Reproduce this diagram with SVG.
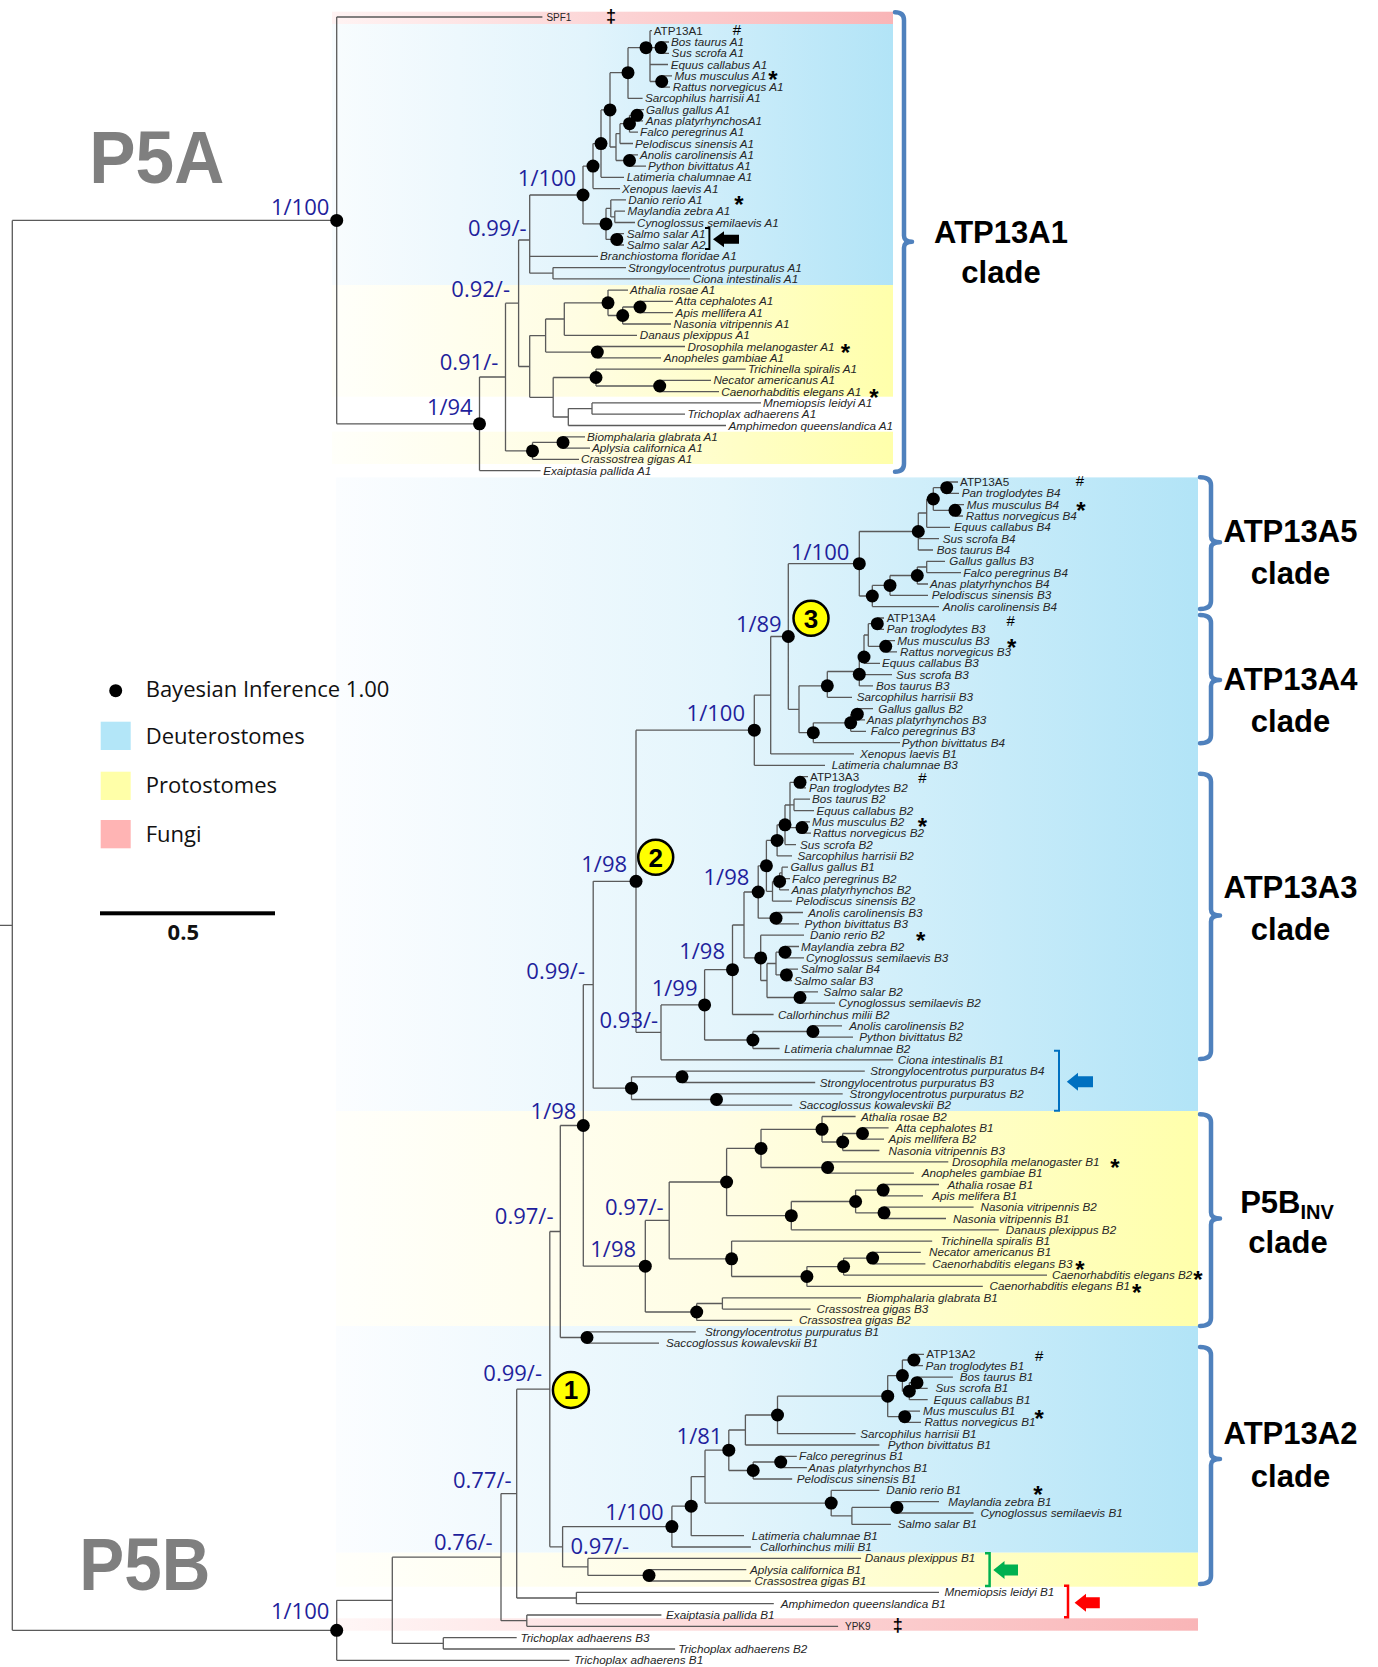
<svg xmlns="http://www.w3.org/2000/svg" xmlns:xlink="http://www.w3.org/1999/xlink" width="1378" height="1667" viewBox="0 0 1378 1667">
<defs>
<linearGradient id="bA" gradientUnits="userSpaceOnUse" x1="332" y1="0" x2="893" y2="0"><stop offset="0" stop-color="#f8fcfe"/><stop offset="0.45" stop-color="#e2f4fc"/><stop offset="1" stop-color="#b2e4f7"/></linearGradient>
<linearGradient id="yA" gradientUnits="userSpaceOnUse" x1="332" y1="0" x2="893" y2="0"><stop offset="0" stop-color="#fffffa"/><stop offset="0.45" stop-color="#fffde2"/><stop offset="1" stop-color="#ffffab"/></linearGradient>
<linearGradient id="pA" gradientUnits="userSpaceOnUse" x1="332" y1="0" x2="893" y2="0"><stop offset="0" stop-color="#fff3f3"/><stop offset="1" stop-color="#f9b5b7"/></linearGradient>
<linearGradient id="bB" gradientUnits="userSpaceOnUse" x1="336" y1="0" x2="1198" y2="0"><stop offset="0" stop-color="#fbfdff"/><stop offset="0.45" stop-color="#e4f5fc"/><stop offset="1" stop-color="#b2e4f7"/></linearGradient>
<linearGradient id="yB" gradientUnits="userSpaceOnUse" x1="336" y1="0" x2="1198" y2="0"><stop offset="0" stop-color="#fffffb"/><stop offset="0.45" stop-color="#fffde4"/><stop offset="1" stop-color="#ffffab"/></linearGradient>
<linearGradient id="pB" gradientUnits="userSpaceOnUse" x1="336" y1="0" x2="1198" y2="0"><stop offset="0" stop-color="#fff6f6"/><stop offset="1" stop-color="#f9b5b7"/></linearGradient>
</defs>
<style>
.br{fill:none;stroke:#5a5a5a;stroke-width:1.3}
.n{fill:#000}
.l{font-family:"Liberation Sans",Arial,sans-serif;font-size:11.7px;font-style:italic;fill:#262626}
.u{font-family:"Liberation Sans",Arial,sans-serif;font-size:11.7px;fill:#262626}
.f{font-family:"Liberation Sans",Arial,sans-serif;font-size:10px;fill:#262626}
.s{font-family:"Open Sans","Liberation Sans",sans-serif;font-size:22px;fill:#1f1f9c;text-anchor:end}
.c{font-family:"Liberation Sans",Arial,sans-serif;font-weight:bold;font-size:31px;fill:#000;text-anchor:middle}
.big{font-family:"Liberation Sans",Arial,sans-serif;font-weight:bold;font-size:75px;fill:#7f7f7f}
.ast{font-family:"Liberation Sans",Arial,sans-serif;font-weight:bold;font-size:24px;fill:#000;text-anchor:middle}
.hs{font-family:"Liberation Sans",Arial,sans-serif;font-size:15px;fill:#000;text-anchor:middle}
.dg{font-family:"Liberation Sans",Arial,sans-serif;font-weight:bold;font-size:18px;fill:#000;text-anchor:middle}
.cb{fill:none;stroke:#4f81bd;stroke-width:4.5;stroke-linecap:round;stroke-linejoin:round}
.lg{font-family:"Open Sans","Liberation Sans",sans-serif;font-size:22px;fill:#111}
.yc{fill:#ffff00;stroke:#000;stroke-width:2.5}
.yt{font-family:"Liberation Sans",Arial,sans-serif;font-weight:bold;font-size:26px;fill:#000;text-anchor:middle}
</style>
<rect x="0" y="0" width="1378" height="1667" fill="#ffffff"/>
<g id="bands">
<rect x="332" y="11.7" width="561" height="12.3" fill="url(#pA)"/>
<rect x="332" y="24" width="561" height="261" fill="url(#bA)"/>
<rect x="332" y="285" width="561" height="111.7" fill="url(#yA)"/>
<rect x="332" y="431.7" width="561" height="32.3" fill="url(#yA)"/>
<rect x="336" y="477.4" width="862" height="633.6" fill="url(#bB)"/>
<rect x="336" y="1111" width="862" height="215" fill="url(#yB)"/>
<rect x="336" y="1326" width="862" height="226.7" fill="url(#bB)"/>
<rect x="336" y="1552.7" width="862" height="34" fill="url(#yB)"/>
<rect x="336" y="1618.3" width="862" height="12.4" fill="url(#pB)"/>
</g>
<g id="titles">
<text class="big" x="89.3" y="182.7" textLength="135" lengthAdjust="spacingAndGlyphs">P5A</text>
<text class="big" x="79.3" y="1590" textLength="131" lengthAdjust="spacingAndGlyphs">P5B</text>
</g>
<g id="connectors">
<path class="br" d="M12.3 220.4V1630.3M12.3 220.4H336.7M12.3 1630.3H336.7M0 925.4H12.3"/>
<path class="br" d="M336.7 17H542.4M336.7 17V423.8M336.7 423.8H479.5M479.5 377V470.6M479.5 470.6H540.5M479.5 377H505.5M505.5 303.2V450.9M505.5 450.9H532.5M532.5 442.4V459.3M532.5 442.4H563M563 436.8V448.1M563 436.8H585M563 448.1H590M532.5 459.3H579"/>
<path class="br" d="M505.5 303.2H518.6M518.6 240V366.5M518.6 240H529.7M518.6 366.5H529.7M529.7 195V273.2M529.7 256.3H598M529.7 273.2H553M553 267.6V278.9M553 267.6H626M553 278.9H690M529.7 195H583"/>
<path class="br" d="M529.7 335.6V397.3M529.7 335.6H545.6M545.6 319V352.1M545.6 319H564.3M564.3 302.8V335.3M564.3 302.8H608M608 290.1V315.5M608 290.1H628M608 315.5H622.7M622.7 307V324M622.7 307H640M640 301.4V312.7M640 301.4H673M640 312.7H673M622.7 324H671M564.3 335.3H637M545.6 352.1H597.3M597.3 346.5V357.8M597.3 346.5H685M597.3 357.8H661M529.7 397.3H553.2M553.2 377.5V417M553.2 377.5H596M596 369.1V386M596 369.1H745.7M596 386H659.7M659.7 380.4V391.7M659.7 380.4H711M659.7 391.7H719M553.2 417H568.3M568.3 408.6V425.5M568.3 408.6H592M592 402.9V414.2M592 402.9H761M592 414.2H685M568.3 425.5H726"/>
<path class="br" d="M583 166.1V223.9M583 166.1H593M593 143.6V188.6M593 188.6H620M593 143.6H601M601 109.9V177.3M601 177.3H624M601 109.9H610M610 72.7V147M610 72.7H628M628 47.7V98.4M628 98.4H642.6M628 47.7H650M650 30.7V81.5M650 30.7H652M650 47.6H661M661 42V53.3M661 42H669M661 53.3H669M650 64.5H668M650 81.5H661.7M661.7 75.8V87.1M661.7 75.8H672M661.7 87.1H670M610 147H616M616 133.6V160.5M616 133.6H620M620 123.7V143.5M620 143.5H633M620 123.7H629.5M629.5 115.3V132.2M629.5 132.2H638M629.5 115.3H637M637 109.7V120.9M637 109.7H644M637 120.9H643M616 160.5H629.5M629.5 154.8V166.1M629.5 154.8H638M629.5 166.1H646M583 223.9H606M606 208.4V239.4M606 208.4H610.8M610.8 199.9V216.9M610.8 199.9H626M610.8 216.9H614.8M614.8 211.2V222.5M614.8 211.2H625M614.8 222.5H635M606 239.4H616.8M616.8 233.7V245M616.8 233.7H624M616.8 245H624"/>
<path class="br" d="M336.7 1600.3V1660.3M336.7 1600.3H392.3M336.7 1660.3H569.5M392.3 1557.2V1643.4M392.3 1643.4H443.3M443.3 1637.7V1649M443.3 1637.7H516.7M443.3 1649H675.1M392.3 1557.2H501M501 1493.6V1620.7M501 1620.7H526.8M526.8 1615V1626.3M526.8 1615H661.4M526.8 1626.3H838.1M501 1493.6H516.7M516.7 1389.2V1598M516.7 1598H576.4M576.4 1592.3V1603.7M576.4 1592.3H939M576.4 1603.7H773.8M516.7 1389.2H549.8M549.8 1231.5V1546.8M549.8 1231.5H560.3M549.8 1546.8H562.6"/>
<path class="br" d="M562.6 1526.6V1566.9M562.6 1566.9H587.9M587.9 1558.4V1575.4M587.9 1558.4H861.1M587.9 1575.4H649M649 1569.7V1581M649 1569.7H746.3M649 1581H750.9M562.6 1526.6H671.9M671.9 1506.2V1547M671.9 1547H750.9M671.9 1506.2H691.2M691.2 1476.7V1535.7M691.2 1535.7H744M691.2 1476.7H705M705 1450.2V1503.1M705 1503.1H831.2M705 1450.2H728.8M728.8 1430V1470.5M728.8 1430H745.4M728.8 1470.5H753.2M745.4 1415V1445M745.4 1445H879.4M745.4 1415H777.5M777.5 1396.2V1433.7M777.5 1433.7H855.6M777.5 1396.2H887.7M887.7 1375.6V1416.7M887.7 1416.7H904.7M904.7 1411.1V1422.4M904.7 1411.1H920M904.7 1422.4H921M887.7 1375.6H902.4M902.4 1360V1391.2M902.4 1360H913.9M913.9 1354.4V1365.7M913.9 1354.4H924M913.9 1365.7H923M902.4 1391.2H909.3M909.3 1382.7V1399.7M909.3 1399.7H927.7M909.3 1382.7H917M917 1377.1V1388.4M917 1377.1H952.9M917 1388.4H927.7M753.2 1462V1479M753.2 1479H792.2M753.2 1462H780.7M780.7 1456.4V1467.7M780.7 1456.4H796.8M780.7 1467.7H806.9M831.2 1490.4V1515.9M831.2 1490.4H879.4M831.2 1515.9H851.9M851.9 1507.4V1524.4M851.9 1524.4H890.9M851.9 1507.4H896.9M896.9 1501.7V1513M896.9 1501.7H939M896.9 1513H973.6"/>
<path class="br" d="M560.3 1125.5V1337.5M560.3 1337.5H587M587 1331.8V1343.1M587 1331.8H695.8M587 1343.1H659M560.3 1125.5H583.3M583.3 984.7V1266.2M583.3 1266.2H645.3M645.3 1220.4V1312M645.3 1312H696.7M696.7 1303.5V1320.4M696.7 1320.4H792.2M696.7 1303.5H722.4M722.4 1297.8V1309.1M722.4 1297.8H861M722.4 1309.1H810.6M645.3 1220.4H669.2M669.2 1182V1258.8M669.2 1182H726.6M726.6 1148.4V1215.7M726.6 1148.4H761M761 1129.3V1167.5M761 1129.3H822M822 1116.5V1142M822 1116.5H855.6M822 1142H842.7M842.7 1133.5V1150.5M842.7 1133.5H862.5M842.7 1150.5H879.4M862.5 1127.8V1139.1M862.5 1127.8H888.6M862.5 1139.1H884M761 1167.5H827.6M827.6 1161.8V1173.1M827.6 1161.8H948.3M827.6 1173.1H913.9M726.6 1215.7H791.3M791.3 1201.5V1229.8M791.3 1229.8H998.8M791.3 1201.5H855.6M855.6 1190.1V1212.8M855.6 1190.1H883.1M883.1 1184.5V1195.8M883.1 1184.5H939M883.1 1195.8H923M855.6 1212.8H884M884 1207.1V1218.5M884 1207.1H973.6M884 1218.5H946M669.2 1258.8H731.6M731.6 1241.1V1276.5M731.6 1241.1H932.2M731.6 1276.5H806.9M806.9 1266.6V1286.4M806.9 1286.4H982.8M806.9 1266.6H843.6M843.6 1258.1V1275.1M843.6 1275.1H1047M843.6 1258.1H872.6M872.6 1252.4V1263.8M872.6 1252.4H920.8M872.6 1263.8H925.4"/>
<path class="br" d="M583.3 984.7H593.2M593.2 881.3V1088.2M593.2 1088.2H631.5M631.5 1076.8V1099.5M631.5 1076.8H682M682 1071.2V1082.5M682 1071.2H864.8M682 1082.5H815.2M631.5 1099.5H716.5M716.5 1093.8V1105.2M716.5 1093.8H842.7M716.5 1105.2H792.2M593.2 881.3H636M636 730.2V1032.3M636 1032.3H661M661 1004.9V1059.8M661 1059.8H893.2M661 1004.9H704.6M704.6 969.7V1040M704.6 1040H752.9M752.9 1031.5V1048.5M752.9 1048.5H779.6M752.9 1031.5H812.9M812.9 1025.8V1037.2M812.9 1025.8H842M812.9 1037.2H853"/>
<path class="br" d="M704.6 969.7H732.5M732.5 925V1014.5M732.5 1014.5H773.6M732.5 925H744M744 892V957.9M744 957.9H760.7M760.7 935.2V980.5M760.7 935.2H804M760.7 980.5H767M767 963.5V997.5M767 997.5H800M800 991.9V1003.2M800 991.9H818M800 1003.2H835M767 963.5H776M776 952.2V974.9M776 952.2H785M785 946.5V957.9M785 946.5H799M785 957.9H804M776 974.9H786.4M786.4 969.2V980.5M786.4 969.2H798M786.4 980.5H792M744 892H758.2M758.2 865.8V918.2M758.2 918.2H776M776 912.5V923.9M776 912.5H803M776 923.9H799M758.2 865.8H766.4M766.4 840.4V891.3M766.4 891.3H772.5M772.5 881.4V901.2M772.5 901.2H792M772.5 881.4H779.6M779.6 872.9V889.9M779.6 889.9H789M779.6 872.9H782M782 867.2V878.6M782 867.2H788M782 878.6H790M766.4 840.4H777.1M777.1 824.8V855.9M777.1 855.9H792M777.1 824.8H785M785 805V844.6M785 844.6H796M785 805H790M790 782.3V827.6M790 782.3H800M800 776.6V787.9M800 776.6H808M800 787.9H806M790 804.9H794M794 799.2V810.6M794 799.2H810M794 810.6H814M790 827.6H802M802 821.9V833.2M802 821.9H810M802 833.2H811"/>
<path class="br" d="M636 730.2H754.3M754.3 695.2V765.3M754.3 765.3H825M754.3 695.2H770.7M770.7 636.5V753.9M770.7 753.9H854M770.7 636.5H788.3M788.3 563.7V709.3M788.3 709.3H799M799 685.8V732.7M799 685.8H827.3M827.3 671.5V697.3M827.3 697.3H852M827.3 671.5H859.3M859.3 657V685.9M859.3 674.6H892M859.3 685.9H873M859.3 657H864M864 635V663.3M864 663.3H880M864 635H868.3M868.3 623.7V646.3M868.3 623.7H877.3M877.3 618V629.3M877.3 618H884M877.3 629.3H884M868.3 646.3H885.7M885.7 640.6V651.9M885.7 640.6H895M885.7 651.9H897M799 732.7H813.3M813.3 722.8V742.6M813.3 742.6H900M813.3 722.8H850.7M850.7 714.2V731.3M850.7 731.3H866M850.7 714.2H857.3M857.3 708.6V719.9M857.3 708.6H873M857.3 719.9H865"/>
<path class="br" d="M788.3 563.7H859.3M859.3 531.5V596M859.3 596H872.3M872.3 585.4V606.6M872.3 606.6H939M872.3 585.4H890M890 575.5V595.3M890 595.3H928M890 575.5H917.3M917.3 567V584M917.3 584H928M917.3 567H926.7M926.7 561.3V572.6M926.7 561.3H945M926.7 572.6H961M859.3 531.5H918.3M918.3 513V550M918.3 538.7H939M918.3 550H933M918.3 513H926.7M926.7 499V527.3M926.7 527.3H950M926.7 499H933.3M933.3 487.7V510.3M933.3 487.7H946.7M946.7 482V493.3M946.7 482H958M946.7 493.3H959M933.3 510.3H955M955 504.7V516M955 504.7H964M955 516H963"/>
</g>
<g id="nodes">
<circle class="n" r="6.5" cx="336.7" cy="220.4"/><circle class="n" r="6.5" cx="479.5" cy="423.8"/><circle class="n" r="6.5" cx="532.5" cy="450.9"/><circle class="n" r="6.5" cx="563" cy="442.4"/><circle class="n" r="6.5" cx="583" cy="195"/><circle class="n" r="6.5" cx="593" cy="166.1"/><circle class="n" r="6.5" cx="601" cy="143.6"/><circle class="n" r="6.5" cx="610" cy="109.9"/><circle class="n" r="6.5" cx="628" cy="72.7"/><circle class="n" r="6.5" cx="646" cy="47.7"/><circle class="n" r="6.5" cx="661" cy="47.6"/><circle class="n" r="6.5" cx="661.7" cy="81.5"/><circle class="n" r="6.5" cx="637" cy="115.3"/><circle class="n" r="6.5" cx="629.5" cy="123.7"/><circle class="n" r="6.5" cx="629.5" cy="160.5"/><circle class="n" r="6.5" cx="606" cy="223.9"/><circle class="n" r="6.5" cx="616.8" cy="239.4"/><circle class="n" r="6.5" cx="608" cy="302.8"/><circle class="n" r="6.5" cx="622.7" cy="315.5"/><circle class="n" r="6.5" cx="640" cy="307"/><circle class="n" r="6.5" cx="597.3" cy="352.1"/><circle class="n" r="6.5" cx="596" cy="377.5"/><circle class="n" r="6.5" cx="659.7" cy="386"/>
<circle class="n" r="6.5" cx="336.7" cy="1630.3"/><circle class="n" r="6.5" cx="587" cy="1337.5"/><circle class="n" r="6.5" cx="583.3" cy="1125.5"/><circle class="n" r="6.5" cx="645.3" cy="1266.2"/><circle class="n" r="6.5" cx="696.7" cy="1312"/><circle class="n" r="6.5" cx="726.6" cy="1182"/><circle class="n" r="6.5" cx="761" cy="1148.4"/><circle class="n" r="6.5" cx="822" cy="1129.3"/><circle class="n" r="6.5" cx="842.7" cy="1142"/><circle class="n" r="6.5" cx="862.5" cy="1133.5"/><circle class="n" r="6.5" cx="827.6" cy="1167.5"/><circle class="n" r="6.5" cx="791.3" cy="1215.7"/><circle class="n" r="6.5" cx="855.6" cy="1201.5"/><circle class="n" r="6.5" cx="883.1" cy="1190.1"/><circle class="n" r="6.5" cx="884" cy="1212.8"/><circle class="n" r="6.5" cx="731.6" cy="1258.8"/><circle class="n" r="6.5" cx="806.9" cy="1276.5"/><circle class="n" r="6.5" cx="843.6" cy="1266.6"/><circle class="n" r="6.5" cx="872.6" cy="1258.1"/>
<circle class="n" r="6.5" cx="631.5" cy="1088.2"/><circle class="n" r="6.5" cx="682" cy="1076.8"/><circle class="n" r="6.5" cx="716.5" cy="1099.5"/>
<circle class="n" r="6.5" cx="636" cy="881.3"/><circle class="n" r="6.5" cx="704.6" cy="1004.9"/><circle class="n" r="6.5" cx="752.9" cy="1040"/><circle class="n" r="6.5" cx="812.9" cy="1031.5"/><circle class="n" r="6.5" cx="732.5" cy="969.7"/><circle class="n" r="6.5" cx="758.2" cy="892"/><circle class="n" r="6.5" cx="766.4" cy="865.8"/><circle class="n" r="6.5" cx="777.1" cy="840.4"/><circle class="n" r="6.5" cx="785" cy="824.8"/><circle class="n" r="6.5" cx="800" cy="782.3"/><circle class="n" r="6.5" cx="802" cy="827.6"/><circle class="n" r="6.5" cx="779.6" cy="881.4"/><circle class="n" r="6.5" cx="776" cy="918.2"/><circle class="n" r="6.5" cx="760.7" cy="957.9"/><circle class="n" r="6.5" cx="785" cy="952.2"/><circle class="n" r="6.5" cx="786.4" cy="974.9"/><circle class="n" r="6.5" cx="800" cy="997.5"/>
<circle class="n" r="6.5" cx="754.3" cy="730.2"/><circle class="n" r="6.5" cx="788.3" cy="636.5"/><circle class="n" r="6.5" cx="859.3" cy="563.7"/><circle class="n" r="6.5" cx="918.3" cy="531.5"/><circle class="n" r="6.5" cx="933.3" cy="499"/><circle class="n" r="6.5" cx="946.7" cy="487.7"/><circle class="n" r="6.5" cx="955" cy="510.3"/><circle class="n" r="6.5" cx="872.3" cy="596"/><circle class="n" r="6.5" cx="890" cy="585.4"/><circle class="n" r="6.5" cx="917.3" cy="575.5"/><circle class="n" r="6.5" cx="827.3" cy="685.8"/><circle class="n" r="6.5" cx="859.3" cy="674.3"/><circle class="n" r="6.5" cx="864" cy="657"/><circle class="n" r="6.5" cx="877.3" cy="623.7"/><circle class="n" r="6.5" cx="885.7" cy="646.3"/><circle class="n" r="6.5" cx="813.3" cy="732.7"/><circle class="n" r="6.5" cx="850.7" cy="722.8"/><circle class="n" r="6.5" cx="857.3" cy="714.2"/>
<circle class="n" r="6.5" cx="671.9" cy="1526.6"/><circle class="n" r="6.5" cx="691.2" cy="1506.2"/><circle class="n" r="6.5" cx="728.8" cy="1450.2"/><circle class="n" r="6.5" cx="777.5" cy="1415"/><circle class="n" r="6.5" cx="887.7" cy="1396.2"/><circle class="n" r="6.5" cx="902.4" cy="1375.6"/><circle class="n" r="6.5" cx="913.9" cy="1360"/><circle class="n" r="6.5" cx="917" cy="1382.7"/><circle class="n" r="6.5" cx="909.3" cy="1391.2"/><circle class="n" r="6.5" cx="904.7" cy="1416.7"/><circle class="n" r="6.5" cx="753.2" cy="1470.5"/><circle class="n" r="6.5" cx="780.7" cy="1462"/><circle class="n" r="6.5" cx="831.2" cy="1503.1"/><circle class="n" r="6.5" cx="896.9" cy="1507.4"/><circle class="n" r="6.5" cx="649" cy="1575.4"/>
</g>
<g id="leaves-P5A">
<text class="f" x="546.4" y="20.5">SPF1</text>
<text class="u" x="653.7" y="34.7">ATP13A1</text>
<text class="l" x="671" y="46">Bos taurus A1</text>
<text class="l" x="671.6" y="57.3">Sus scrofa A1</text>
<text class="l" x="670.8" y="68.5">Equus callabus A1</text>
<text class="l" x="674.4" y="79.8">Mus musculus A1</text>
<text class="l" x="672.8" y="91.1">Rattus norvegicus A1</text>
<text class="l" x="645" y="102.4">Sarcophilus harrisii A1</text>
<text class="l" x="646" y="113.7">Gallus gallus A1</text>
<text class="l" x="645.7" y="124.9">Anas platyrhynchosA1</text>
<text class="l" x="640" y="136.2">Falco peregrinus A1</text>
<text class="l" x="635" y="147.5">Pelodiscus sinensis A1</text>
<text class="l" x="640" y="158.8">Anolis carolinensis A1</text>
<text class="l" x="648" y="170.1">Python bivittatus A1</text>
<text class="l" x="626.7" y="181.3">Latimeria chalumnae A1</text>
<text class="l" x="622" y="192.6">Xenopus laevis A1</text>
<text class="l" x="628.3" y="203.9">Danio rerio A1</text>
<text class="l" x="627.5" y="215.2">Maylandia zebra A1</text>
<text class="l" x="637" y="226.5">Cynoglossus semilaevis A1</text>
<text class="l" x="626.7" y="237.7">Salmo salar A1</text>
<text class="l" x="626.7" y="249">Salmo salar A2</text>
<text class="l" x="600" y="260.3">Branchiostoma floridae A1</text>
<text class="l" x="628" y="271.6">Strongylocentrotus purpuratus A1</text>
<text class="l" x="692.7" y="282.9">Ciona intestinalis A1</text>
<text class="l" x="630" y="294.1">Athalia rosae A1</text>
<text class="l" x="675.6" y="305.4">Atta cephalotes A1</text>
<text class="l" x="675.6" y="316.7">Apis mellifera A1</text>
<text class="l" x="673.6" y="328">Nasonia vitripennis A1</text>
<text class="l" x="639.8" y="339.3">Danaus plexippus A1</text>
<text class="l" x="687.5" y="350.5">Drosophila melanogaster A1</text>
<text class="l" x="663.7" y="361.8">Anopheles gambiae A1</text>
<text class="l" x="748" y="373.1">Trichinella spiralis A1</text>
<text class="l" x="713.4" y="384.4">Necator americanus A1</text>
<text class="l" x="721.3" y="395.7">Caenorhabditis elegans A1</text>
<text class="l" x="763" y="406.9">Mnemiopsis leidyi A1</text>
<text class="l" x="687.5" y="418.2">Trichoplax adhaerens A1</text>
<text class="l" x="728.5" y="429.5">Amphimedon queenslandica A1</text>
<text class="l" x="587" y="440.8">Biomphalaria glabrata A1</text>
<text class="l" x="592" y="452.1">Aplysia californica A1</text>
<text class="l" x="581" y="463.3">Crassostrea gigas A1</text>
<text class="l" x="543.2" y="474.6">Exaiptasia pallida A1</text>
</g>
<g id="leaves-P5B">
<text class="u" x="960" y="486">ATP13A5</text>
<text class="l" x="961.7" y="497.3">Pan troglodytes B4</text>
<text class="l" x="966.7" y="508.7">Mus musculus B4</text>
<text class="l" x="965.7" y="520">Rattus norvegicus B4</text>
<text class="l" x="954" y="531.3">Equus callabus B4</text>
<text class="l" x="942.7" y="542.7">Sus scrofa B4</text>
<text class="l" x="936.7" y="554">Bos taurus B4</text>
<text class="l" x="949.3" y="565.3">Gallus gallus B3</text>
<text class="l" x="963.3" y="576.6">Falco peregrinus B4</text>
<text class="l" x="930" y="588">Anas platyrhynchos B4</text>
<text class="l" x="931.7" y="599.3">Pelodiscus sinensis B3</text>
<text class="l" x="942.7" y="610.6">Anolis carolinensis B4</text>
<text class="u" x="886.7" y="622">ATP13A4</text>
<text class="l" x="886.7" y="633.3">Pan troglodytes B3</text>
<text class="l" x="897.3" y="644.6">Mus musculus B3</text>
<text class="l" x="900" y="655.9">Rattus norvegicus B3</text>
<text class="l" x="882" y="667.3">Equus callabus B3</text>
<text class="l" x="896" y="678.6">Sus scrofa B3</text>
<text class="l" x="876" y="689.9">Bos taurus B3</text>
<text class="l" x="856.7" y="701.3">Sarcophilus harrisii B3</text>
<text class="l" x="878.3" y="712.6">Gallus gallus B2</text>
<text class="l" x="866.7" y="723.9">Anas platyrhynchos B3</text>
<text class="l" x="870.7" y="735.3">Falco peregrinus B3</text>
<text class="l" x="901.7" y="746.6">Python bivittatus B4</text>
<text class="l" x="860" y="757.9">Xenopus laevis B1</text>
<text class="l" x="831.7" y="769.3">Latimeria chalumnae B3</text>
<text class="u" x="810" y="780.6">ATP13A3</text>
<text class="l" x="808.9" y="791.9">Pan troglodytes B2</text>
<text class="l" x="812" y="803.2">Bos taurus B2</text>
<text class="l" x="816.4" y="814.6">Equus callabus B2</text>
<text class="l" x="812" y="825.9">Mus musculus B2</text>
<text class="l" x="812.9" y="837.2">Rattus norvegicus B2</text>
<text class="l" x="800" y="848.6">Sus scrofa B2</text>
<text class="l" x="797.5" y="859.9">Sarcophilus harrisii B2</text>
<text class="l" x="790.4" y="871.2">Gallus gallus B1</text>
<text class="l" x="792" y="882.6">Falco peregrinus B2</text>
<text class="l" x="791.4" y="893.9">Anas platyrhynchos B2</text>
<text class="l" x="795.7" y="905.2">Pelodiscus sinensis B2</text>
<text class="l" x="808.2" y="916.5">Anolis carolinensis B3</text>
<text class="l" x="804.6" y="927.9">Python bivittatus B3</text>
<text class="l" x="810" y="939.2">Danio rerio B2</text>
<text class="l" x="801" y="950.5">Maylandia zebra B2</text>
<text class="l" x="806" y="961.9">Cynoglossus semilaevis B3</text>
<text class="l" x="800.7" y="973.2">Salmo salar B4</text>
<text class="l" x="794" y="984.5">Salmo salar B3</text>
<text class="l" x="823.6" y="995.9">Salmo salar B2</text>
<text class="l" x="838.6" y="1007.2">Cynoglossus semilaevis B2</text>
<text class="l" x="777.9" y="1018.5">Callorhinchus milii B2</text>
<text class="l" x="849.3" y="1029.8">Anolis carolinensis B2</text>
<text class="l" x="859.3" y="1041.2">Python bivittatus B2</text>
<text class="l" x="784.3" y="1052.5">Latimeria chalumnae B2</text>
<text class="l" x="897.8" y="1063.8">Ciona intestinalis B1</text>
<text class="l" x="870.3" y="1075.2">Strongylocentrotus purpuratus B4</text>
<text class="l" x="819.8" y="1086.5">Strongylocentrotus purpuratus B3</text>
<text class="l" x="849.6" y="1097.8">Strongylocentrotus purpuratus B2</text>
<text class="l" x="799" y="1109.2">Saccoglossus kowalevskii B2</text>
<text class="l" x="861" y="1120.5">Athalia rosae B2</text>
<text class="l" x="895.5" y="1131.8">Atta cephalotes B1</text>
<text class="l" x="888.6" y="1143.1">Apis mellifera B2</text>
<text class="l" x="888.6" y="1154.5">Nasonia vitripennis B3</text>
<text class="l" x="952" y="1165.8">Drosophila melanogaster B1</text>
<text class="l" x="921.7" y="1177.1">Anopheles gambiae B1</text>
<text class="l" x="947.4" y="1188.5">Athalia rosae B1</text>
<text class="l" x="932.2" y="1199.8">Apis melifera B1</text>
<text class="l" x="980.5" y="1211.1">Nasonia vitripennis B2</text>
<text class="l" x="952.9" y="1222.5">Nasonia vitripennis B1</text>
<text class="l" x="1005.7" y="1233.8">Danaus plexippus B2</text>
<text class="l" x="940.5" y="1245.1">Trichinella spiralis B1</text>
<text class="l" x="929" y="1256.4">Necator americanus B1</text>
<text class="l" x="932.2" y="1267.8">Caenorhabditis elegans B3</text>
<text class="l" x="1052" y="1279.1">Caenorhabditis elegans B2</text>
<text class="l" x="989.6" y="1290.4">Caenorhabditis elegans B1</text>
<text class="l" x="866.6" y="1301.8">Biomphalaria glabrata B1</text>
<text class="l" x="816.5" y="1313.1">Crassostrea gigas B3</text>
<text class="l" x="799" y="1324.4">Crassostrea gigas B2</text>
<text class="l" x="705" y="1335.8">Strongylocentrotus purpuratus B1</text>
<text class="l" x="666" y="1347.1">Saccoglossus kowalevskii B1</text>
<text class="u" x="926.3" y="1358.4">ATP13A2</text>
<text class="l" x="925.4" y="1369.7">Pan troglodytes B1</text>
<text class="l" x="959.8" y="1381.1">Bos taurus B1</text>
<text class="l" x="935.5" y="1392.4">Sus scrofa B1</text>
<text class="l" x="933.6" y="1403.7">Equus callabus B1</text>
<text class="l" x="923" y="1415.1">Mus musculus B1</text>
<text class="l" x="924.4" y="1426.4">Rattus norvegicus B1</text>
<text class="l" x="860.2" y="1437.7">Sarcophilus harrisii B1</text>
<text class="l" x="887.7" y="1449">Python bivittatus B1</text>
<text class="l" x="799" y="1460.4">Falco peregrinus B1</text>
<text class="l" x="808.3" y="1471.7">Anas platyrhynchos B1</text>
<text class="l" x="796.8" y="1483">Pelodiscus sinensis B1</text>
<text class="l" x="886.3" y="1494.4">Danio rerio B1</text>
<text class="l" x="948.3" y="1505.7">Maylandia zebra B1</text>
<text class="l" x="980.5" y="1517">Cynoglossus semilaevis B1</text>
<text class="l" x="897.8" y="1528.4">Salmo salar B1</text>
<text class="l" x="751.8" y="1539.7">Latimeria chalumnae B1</text>
<text class="l" x="760" y="1551">Callorhinchus milii B1</text>
<text class="l" x="864.8" y="1562.4">Danaus plexippus B1</text>
<text class="l" x="750" y="1573.7">Aplysia californica B1</text>
<text class="l" x="754.6" y="1585">Crassostrea gigas B1</text>
<text class="l" x="944.6" y="1596.3">Mnemiopsis leidyi B1</text>
<text class="l" x="780.7" y="1607.7">Amphimedon queenslandica B1</text>
<text class="l" x="666" y="1619">Exaiptasia pallida B1</text>
<text class="f" x="845" y="1629.8">YPK9</text>
<text class="l" x="520.4" y="1641.7">Trichoplax adhaerens B3</text>
<text class="l" x="678.3" y="1653">Trichoplax adhaerens B2</text>
<text class="l" x="574.1" y="1664.3">Trichoplax adhaerens B1</text>
</g>
<g id="support-values">
<text class="s" x="329.3" y="215">1/100</text>
<text class="s" x="576.2" y="186.3">1/100</text>
<text class="s" x="526.6" y="236.3">0.99/-</text>
<text class="s" x="510" y="297">0.92/-</text>
<text class="s" x="498.3" y="369.7">0.91/-</text>
<text class="s" x="472.7" y="415.3">1/94</text>
<text class="s" x="849.3" y="559.7">1/100</text>
<text class="s" x="781.7" y="632">1/89</text>
<text class="s" x="745" y="720.7">1/100</text>
<text class="s" x="627.1" y="872">1/98</text>
<text class="s" x="749.3" y="884.7">1/98</text>
<text class="s" x="725" y="958.7">1/98</text>
<text class="s" x="697.5" y="996.3">1/99</text>
<text class="s" x="658.2" y="1028">0.93/-</text>
<text class="s" x="585" y="979">0.99/-</text>
<text class="s" x="576.4" y="1118.7">1/98</text>
<text class="s" x="553.5" y="1224">0.97/-</text>
<text class="s" x="663.7" y="1214.7">0.97/-</text>
<text class="s" x="636.1" y="1257.3">1/98</text>
<text class="s" x="542" y="1380.7">0.99/-</text>
<text class="s" x="722.4" y="1444">1/81</text>
<text class="s" x="663.7" y="1519.7">1/100</text>
<text class="s" x="629.2" y="1554">0.97/-</text>
<text class="s" x="511.7" y="1488">0.77/-</text>
<text class="s" x="492.7" y="1549.7">0.76/-</text>
<text class="s" x="329.3" y="1618.7">1/100</text>
</g>
<g id="numbered-nodes">
<g id="mark-3"><circle class="yc" cx="811" cy="618.3" r="17.5"/><text class="yt" x="811" y="627.5">3</text></g>
<g id="mark-2"><circle class="yc" cx="655.7" cy="857.3" r="17.5"/><text class="yt" x="655.7" y="866.5">2</text></g>
<g id="mark-1"><circle class="yc" cx="570.9" cy="1390" r="18"/><text class="yt" x="570.9" y="1399.2">1</text></g>
</g>
<g id="marks">
<text class="dg" x="611" y="22">‡</text>
<text class="dg" x="897.8" y="1630.5">‡</text>
<text class="hs" x="737" y="34.5">#</text>
<text class="hs" x="1080" y="486">#</text>
<text class="hs" x="1010.7" y="625.7">#</text>
<text class="hs" x="922.5" y="783.3">#</text>
<text class="hs" x="1039.2" y="1361">#</text>
<text class="ast" x="773" y="88">*</text>
<text class="ast" x="739" y="213.3">*</text>
<text class="ast" x="845.3" y="360.5">*</text>
<text class="ast" x="874" y="405.7">*</text>
<text class="ast" x="1081" y="518.7">*</text>
<text class="ast" x="1011.7" y="655.7">*</text>
<text class="ast" x="922.5" y="835">*</text>
<text class="ast" x="920.7" y="949">*</text>
<text class="ast" x="1115" y="1175.7">*</text>
<text class="ast" x="1080" y="1277.7">*</text>
<text class="ast" x="1198" y="1288">*</text>
<text class="ast" x="1136.6" y="1301">*</text>
<text class="ast" x="1039.2" y="1426.7">*</text>
<text class="ast" x="1037.8" y="1503.3">*</text>
</g>
<g id="pointers">
<path d="M705 228H709.4V249H705" fill="none" stroke="#000" stroke-width="2"/>
<polygon points="713,239.3 724,231.3 724,234.8 739,234.8 739,243.8 724,243.8 724,247.3" fill="#000"/>
<path d="M1054 1050.7H1059V1110.7H1054" fill="none" stroke="#0070c0" stroke-width="2"/>
<polygon points="1066.8,1081.7 1078,1072.7 1078,1076.2 1093,1076.2 1093,1087.2 1078,1087.2 1078,1090.7" fill="#0070c0"/>
<path d="M985 1553.3H989.6V1586H985" fill="none" stroke="#00b050" stroke-width="2.5"/>
<polygon points="993.3,1570 1004.5,1561 1004.5,1564.5 1018,1564.5 1018,1575.5 1004.5,1575.5 1004.5,1579" fill="#00b050"/>
<path d="M1064 1585.7H1068V1617.3H1064" fill="none" stroke="#ff0000" stroke-width="2.5"/>
<polygon points="1074.6,1602.7 1086,1593.7 1086,1597.2 1099.8,1597.2 1099.8,1608.2 1086,1608.2 1086,1611.7" fill="#ff0000"/>
</g>
<g id="clade-brackets">
<path class="cb" d="M895 12.3Q904 12.3 904 20.3V235.7Q904 241.7 912 241.7Q904 241.7 904 247.7V463.7Q904 471.7 895 471.7"/>
<path class="cb" d="M1200 477.2Q1211 477.2 1211 485.2V536.3Q1211 542.3 1220 542.3Q1211 542.3 1211 548.3V601Q1211 609 1200 609"/>
<path class="cb" d="M1200 615Q1211 615 1211 623V674Q1211 680 1220 680Q1211 680 1211 686V735.2Q1211 743.2 1200 743.2"/>
<path class="cb" d="M1200 773.8Q1211 773.8 1211 781.8V909.4Q1211 915.4 1220 915.4Q1211 915.4 1211 921.4V1051Q1211 1059 1200 1059"/>
<path class="cb" d="M1200 1114.3Q1211 1114.3 1211 1122.3V1212.6Q1211 1218.6 1220 1218.6Q1211 1218.6 1211 1224.6V1318Q1211 1326 1200 1326"/>
<path class="cb" d="M1200 1347Q1211 1347 1211 1355V1453Q1211 1459 1220 1459Q1211 1459 1211 1465V1576Q1211 1584 1200 1584"/>
<g id="lbl-a1"><text class="c" x="1001" y="243.3">ATP13A1</text><text class="c" x="1001" y="283.3">clade</text></g>
<g id="lbl-a5"><text class="c" x="1290.5" y="542.3">ATP13A5</text><text class="c" x="1290.5" y="584.4">clade</text></g>
<g id="lbl-a4"><text class="c" x="1290.5" y="689.6">ATP13A4</text><text class="c" x="1290.5" y="731.7">clade</text></g>
<g id="lbl-a3"><text class="c" x="1290.5" y="898.2">ATP13A3</text><text class="c" x="1290.5" y="940.3">clade</text></g>
<g id="lbl-inv"><text class="c" x="1287" y="1212.5">P5B<tspan font-size="20" dy="6">INV</tspan></text><text class="c" x="1288" y="1253">clade</text></g>
<g id="lbl-a2"><text class="c" x="1290.5" y="1444.3">ATP13A2</text><text class="c" x="1290.5" y="1487">clade</text></g>
</g>
<g id="legend">
<circle class="n" cx="115.7" cy="690.7" r="6.5"/>
<text class="lg" x="145.7" y="697.3">Bayesian Inference 1.00</text>
<rect x="100.7" y="721.7" width="30" height="28.3" fill="#b3e6f8"/>
<text class="lg" x="145.7" y="744">Deuterostomes</text>
<rect x="100.7" y="771.7" width="30" height="28.3" fill="#ffffa8"/>
<text class="lg" x="145.7" y="793.3">Protostomes</text>
<rect x="100.7" y="820" width="30" height="28.3" fill="#ffb4b4"/>
<text class="lg" x="145.7" y="841.7">Fungi</text>
<rect x="100" y="911.3" width="175" height="4" fill="#000"/>
<text x="183.3" y="940" font-family="Open Sans, Liberation Sans, sans-serif" font-weight="bold" font-size="22" text-anchor="middle" fill="#111">0.5</text>
</g>
</svg>
